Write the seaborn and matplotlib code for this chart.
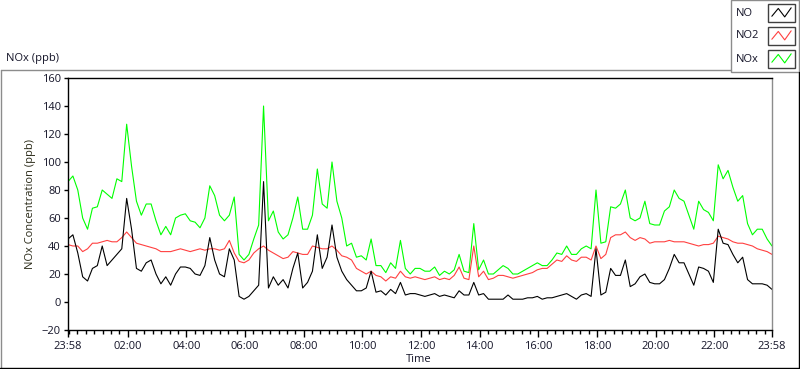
"""
NOx / NO / NO2 concentrations over one day (LabVIEW style chart).
"""

import numpy as np
import pandas as pd
import matplotlib
matplotlib.use("Agg")
import matplotlib.pyplot as plt
import matplotlib.dates as mdates
from matplotlib.lines import Line2D
from matplotlib.patches import Rectangle
import seaborn as sns

# 10 minute readings, 23:58 -> 23:58 next day (ppb)
no = [45, 48, 35, 18, 15, 24, 26, 40, 26, 30, 34, 38, 74, 52, 24, 22, 28, 30, 20, 13,
      18, 12, 20, 25, 25, 24, 20, 19, 26, 46, 30, 20, 18, 38, 30, 4, 2, 4, 8, 12,
      86, 10, 18, 12, 16, 10, 24, 35, 10, 14, 22, 48, 24, 32, 55, 32, 22, 16, 12, 8,
      8, 10, 22, 7, 8, 5, 9, 6, 14, 5, 6, 6, 5, 4, 5, 6, 4, 5, 4, 3,
      8, 5, 5, 14, 5, 6, 2, 2, 2, 2, 5, 2, 2, 2, 3, 3, 4, 2, 3, 3,
      4, 5, 6, 4, 2, 5, 6, 4, 38, 5, 7, 24, 19, 19, 30, 11, 13, 18, 20, 14,
      13, 13, 16, 24, 34, 28, 28, 20, 12, 25, 24, 22, 14, 52, 42, 41, 34, 28, 32, 16,
      13, 13, 13, 12, 9]
no2 = [41, 40, 40, 36, 38, 42, 42, 43, 44, 43, 43, 46, 50, 46, 42, 41, 40, 39, 38, 36,
       36, 36, 37, 38, 37, 36, 37, 38, 37, 38, 38, 37, 38, 44, 35, 29, 28, 30, 35, 38,
       40, 37, 35, 33, 31, 32, 36, 35, 34, 34, 40, 39, 38, 38, 40, 37, 33, 32, 30, 24,
       22, 20, 22, 19, 18, 15, 18, 17, 22, 18, 17, 18, 17, 16, 17, 18, 16, 17, 16, 19,
       25, 17, 16, 40, 18, 22, 16, 17, 19, 19, 18, 17, 18, 19, 20, 21, 23, 24, 24, 27,
       30, 29, 33, 30, 29, 32, 32, 30, 40, 31, 34, 46, 48, 48, 50, 46, 44, 46, 45, 42,
       43, 43, 43, 44, 43, 43, 43, 42, 41, 40, 41, 41, 42, 47, 46, 45, 43, 42, 42, 41,
       40, 38, 37, 36, 34]
nox = [86, 90, 80, 60, 52, 67, 68, 80, 77, 74, 88, 86, 127, 97, 72, 62, 70, 70, 58, 48,
       54, 48, 60, 62, 63, 58, 57, 53, 60, 83, 76, 62, 58, 62, 75, 34, 30, 34, 45, 55,
       140, 58, 65, 50, 45, 48, 60, 75, 52, 52, 62, 95, 70, 67, 100, 72, 60, 40, 42, 32,
       33, 30, 45, 26, 26, 21, 28, 24, 44, 24, 20, 24, 24, 22, 22, 25, 19, 22, 20, 23,
       34, 22, 21, 56, 23, 30, 20, 20, 23, 26, 24, 20, 20, 22, 24, 26, 28, 26, 26, 30,
       35, 34, 40, 34, 34, 38, 40, 38, 80, 42, 43, 68, 67, 70, 80, 60, 58, 60, 72, 56,
       55, 55, 65, 68, 80, 74, 72, 62, 52, 72, 66, 64, 58, 98, 88, 94, 82, 72, 76, 56,
       48, 52, 52, 45, 40]

series_names = ["NO", "NO2", "NOx"]
series_colors = {"NO": "#000000", "NO2": "#ff4040", "NOx": "#00ff00"}

W, H = 800, 369


def fx(x):
    return x / W


def fy(y):
    return 1 - y / H


def main():
    times = pd.date_range("2015-03-01 23:58", periods=len(no), freq="10min")
    df = pd.DataFrame({"Time": times, "NO": no, "NO2": no2, "NOx": nox})
    long_df = df.melt(id_vars="Time", var_name="Species", value_name="ppb")

    sns.set_theme(style="white")
    plt.rcParams["font.family"] = ["Open Sans", "DejaVu Sans"]
    text_color = "#141428"

    fig = plt.figure(figsize=(W / 100, H / 100), dpi=100)
    ax = fig.add_axes([fx(68), fy(330), fx(772) - fx(68), fy(78) - fy(330)])

    sns.lineplot(data=long_df, x="Time", y="ppb", hue="Species",
                 hue_order=["NOx", "NO2", "NO"], palette=series_colors,
                 linewidth=0.8, estimator=None, legend=False, ax=ax)

    start, end = times[0], times[-1]
    ax.set_xlim(start, end)
    ax.set_ylim(-20, 160)
    ax.set_yticks(range(-20, 161, 20))

    majors = [start] + [pd.Timestamp("2015-03-02") + pd.Timedelta(hours=h) for h in range(2, 23, 2)] + [end]
    ax.set_xticks([mdates.date2num(t) for t in majors])
    ax.xaxis.set_major_formatter(mdates.DateFormatter("%H:%M"))
    minors = [pd.Timestamp("2015-03-02") + pd.Timedelta(minutes=120 * k / 7) for k in range(0, 84)]
    ax.set_xticks([mdates.date2num(t) for t in minors], minor=True)

    ax.set_xlabel("")
    ax.set_ylabel("")
    ax.tick_params(axis="both", which="both", direction="out", colors="black",
                   labelcolor=text_color, labelsize=8, width=1)
    ax.tick_params(axis="x", which="major", length=5, pad=3, bottom=True)
    ax.tick_params(axis="x", which="minor", length=3, bottom=True)
    ax.tick_params(axis="y", which="major", length=3, pad=2, left=True)

    for side in ["left", "bottom", "top"]:
        ax.spines[side].set_color("black")
        ax.spines[side].set_linewidth(1)
    ax.spines["right"].set_color("#8c8c8c")
    ax.spines["right"].set_linewidth(1)

    fig.text(fx(30), fy(204), "NOx Concentration (ppb)", rotation=90,
             ha="center", va="center", fontsize=8, color="#2a2a18")
    fig.text(fx(419), fy(360), "Time", ha="center", va="center", fontsize=8, color=text_color)
    fig.text(fx(6), fy(58), "NOx (ppb)", ha="left", va="center", fontsize=8, color=text_color)

    # outer panel frame
    fig.add_artist(Line2D([fx(0.5), fx(731)], [fy(69.5), fy(69.5)], color="#8c8c8c", lw=1))
    fig.add_artist(Line2D([fx(0.5), fx(0.5)], [fy(69.5), fy(368)], color="#8c8c8c", lw=1))
    fig.add_artist(Line2D([fx(0), fx(800)], [fy(367.5), fy(367.5)], color="black", lw=1))
    fig.add_artist(Line2D([fx(799), fx(799)], [fy(72), fy(368)], color="black", lw=1))

    # legend panel
    fig.add_artist(Rectangle((fx(731), fy(72)), fx(799) - fx(731), fy(0) - fy(72),
                             transform=fig.transFigure, fill=True, fc="white",
                             ec="#8c8c8c", lw=1))
    zig_x = [0.08, 0.36, 0.64, 0.92]
    zig_y = [0.25, 0.85, 0.2, 0.9]
    for i, name in enumerate(series_names):
        yc = 13 + 23 * i
        fig.text(fx(736), fy(yc), name, ha="left", va="center", fontsize=8, color=text_color)
        x0, y0, bw, bh = 768, yc - 8.5, 27, 17
        fig.add_artist(Rectangle((fx(x0), fy(y0 + bh)), fx(bw), bh / H,
                                 transform=fig.transFigure, fill=True, fc="white",
                                 ec="#404040", lw=1))
        xs = [fx(x0 + 2 + zx * (bw - 4)) for zx in zig_x]
        ys = [fy(y0 + bh - 2 - zy * (bh - 4)) for zy in zig_y]
        fig.add_artist(Line2D(xs, ys, color=series_colors[name], lw=0.8))

    fig.savefig("out.png", dpi=100, facecolor="white")


if __name__ == "__main__":
    main()
